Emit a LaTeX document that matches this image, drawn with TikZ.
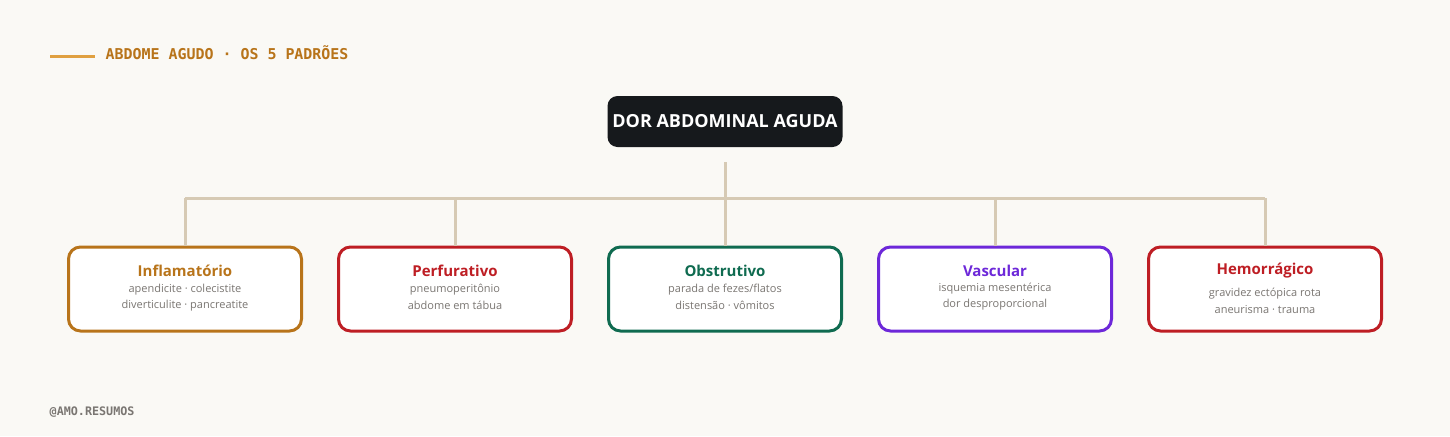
\documentclass[tikz,border=0pt]{standalone}
\usepackage{fontspec}
\setmainfont{Open Sans}
\newfontfamily\monofont{DejaVu Sans Mono}
\usepackage{tikz}
\usetikzlibrary{positioning}

\definecolor{paper}{HTML}{FAF9F5}
\definecolor{ink}{HTML}{16191C}
\definecolor{linkc}{HTML}{D6CAB4}
\definecolor{amber}{HTML}{B8741A}
\definecolor{amberline}{HTML}{E0A040}
\definecolor{crimson}{HTML}{BE1E24}
\definecolor{pine}{HTML}{0F6B50}
\definecolor{violet}{HTML}{6D28D9}
\definecolor{muted}{HTML}{7A7672}

\tikzset{
  kind/.style={draw=#1, line width=2.25pt, rounded corners=9pt, fill=white,
    minimum width=174.75pt, minimum height=63pt},
  kindname/.style={text=#1, font=\bfseries\fontsize{11.25}{13}\selectfont},
  kindtext/.style={text=muted, font=\fontsize{8.25}{10}\selectfont},
  link/.style={draw=linkc, line width=2.25pt}
}

\begin{document}
\begin{tikzpicture}[x=0.75pt, y=-0.75pt]
\fill[paper] (0,0) rectangle (1450,436);
\useasboundingbox (0,0) rectangle (1450,436);

% title
\draw[amberline, line width=2.25pt] (50,56)--(95,56);
\node[anchor=west, text=amber, font=\monofont\bfseries\fontsize{11.2}{13}\selectfont] (title) at (101,53) {ABDOME AGUDO · OS 5 PADRÕES};

% root
\node[fill=ink, rounded corners=7.5pt, minimum width=176.25pt, minimum height=38.25pt, text=white, font=\bfseries\fontsize{13.5}{16}\selectfont] (root) at (725,121.5) {DOR ABDOMINAL AGUDA};

% patterns
\node[kind=amber] (inf) at (185,289) {};
\node[kind=crimson] (perf) at (455,289) {};
\node[kind=pine] (obs) at (725,289) {};
\node[kind=violet] (vasc) at (995,289) {};
\node[kind=crimson] (hem) at (1265,289) {};

\node[kindname=amber] (infname) at (185,271) {Inflamatório};
\node[kindtext] (infa) at (185,289.5) {apendicite · colecistite};
\node[kindtext] (infb) at (185,305.5) {diverticulite · pancreatite};

\node[kindname=crimson] (perfname) at (455,271) {Perfurativo};
\node[kindtext] (perfa) at (455,289.5) {pneumoperitônio};
\node[kindtext] (perfb) at (455,305.5) {abdome em tábua};

\node[kindname=pine] (obsname) at (725,271) {Obstrutivo};
\node[kindtext] (obsa) at (725,289.5) {parada de fezes/flatos};
\node[kindtext] (obsb) at (725,305.5) {distensão · vômitos};

\node[kindname=violet] (vascname) at (995,271) {Vascular};
\node[kindtext] (vasca) at (995,288.5) {isquemia mesentérica};
\node[kindtext] (vascb) at (995,304.5) {dor desproporcional};

\node[kindname=crimson] (hemname) at (1265,271) {Hemorrágico};
\node[kindtext] (hema) at (1265,293.5) {gravidez ectópica rota};
\node[kindtext] (hemb) at (1265,309.5) {aneurisma · trauma};

% tree
\coordinate (hub) at (725,198);
\draw[link] ([yshift=-11.25pt]root.south)--(hub);
\draw[link] (inf.north |- hub)--(hem.north |- hub);
\foreach \k in {inf, perf, obs, vasc, hem}
  \draw[link] (\k.north |- hub)--(\k.north);

% footer
\node[anchor=west, text=muted, font=\monofont\bfseries\fontsize{8.8}{10}\selectfont] (handle) at (45,412) {@AMO.RESUMOS};
\end{tikzpicture}
\end{document}
